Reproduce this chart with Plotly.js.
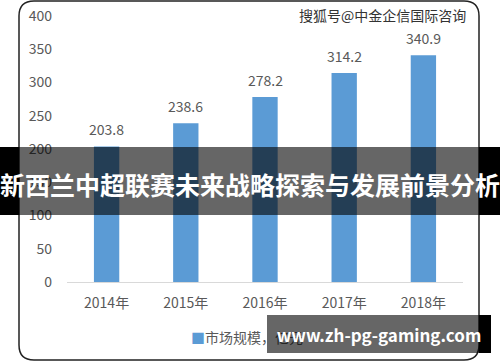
<!DOCTYPE html>
<html>
<head>
<meta charset="utf-8">
<script src="https://cdn.plot.ly/plotly-3.0.1.min.js"></script>
<style>html,body{margin:0;padding:0;background:#fff;}#chart{width:500px;height:362px;}</style>
</head>
<body>
<div id="chart"></div>
<script>
var categories = ['2014年', '2015年', '2016年', '2017年', '2018年'];
var marketSize = [203.8, 238.6, 278.2, 314.2, 340.9];
var yTicks = [0, 50, 100, 150, 200, 250, 300, 350, 400];
var seriesName = '市场规模，亿元';
var titleText = '新西兰中超联赛未来战略探索与发展前景分析';
var watermarkText = '搜狐号@中金企信国际咨询';
var urlText = 'www.zh-pg-gaming.com';

var W = 500, H = 362, L = 67, R = 463, T = 16, B = 282;
function X(p) { return (p - L) / (R - L); }
function Y(p) { return (B - p) / (B - T); }

var FONT = '"Noto Sans CJK SC", "Noto Sans", sans-serif';
var GRAY = '#595959';

// rounded border box
var bx0 = 19, bx1 = 479, by0 = 1, by1 = 360, r = 15;
var borderPath = 'M' + X(bx0 + r) + ',' + Y(by0) +
  ' L' + X(bx1 - r) + ',' + Y(by0) +
  ' Q' + X(bx1) + ',' + Y(by0) + ' ' + X(bx1) + ',' + Y(by0 + r) +
  ' L' + X(bx1) + ',' + Y(by1 - r) +
  ' Q' + X(bx1) + ',' + Y(by1) + ' ' + X(bx1 - r) + ',' + Y(by1) +
  ' L' + X(bx0 + r) + ',' + Y(by1) +
  ' Q' + X(bx0) + ',' + Y(by1) + ' ' + X(bx0) + ',' + Y(by1 - r) +
  ' L' + X(bx0) + ',' + Y(by0 + r) +
  ' Q' + X(bx0) + ',' + Y(by0) + ' ' + X(bx0 + r) + ',' + Y(by0) + ' Z';

function rect(x0, y0, x1, y1, color) {
  return {type: 'rect', xref: 'paper', yref: 'paper', layer: 'above',
    x0: X(x0), x1: X(x1), y0: Y(y1), y1: Y(y0),
    fillcolor: color, line: {width: 0}};
}

var trace = {
  type: 'bar',
  x: categories,
  y: marketSize,
  name: seriesName,
  marker: {color: '#5B9BD5'},
  width: 0.32,
  cliponaxis: false,
  hoverinfo: 'x+y'
};

var valueLabels = categories.map(function (c, i) {
  return {xref: 'x', yref: 'y', x: c, y: marketSize[i], xanchor: 'center', yanchor: 'bottom',
    yshift: 5, showarrow: false, text: marketSize[i].toFixed(1),
    font: {family: FONT, size: 14, color: GRAY}};
});

var layout = {
  width: W, height: H,
  margin: {l: L, r: W - R, t: T, b: H - B, pad: 0},
  paper_bgcolor: '#ffffff',
  plot_bgcolor: '#ffffff',
  showlegend: false,
  font: {family: FONT, size: 14, color: GRAY},
  xaxis: {
    type: 'category',
    showgrid: false, zeroline: false,
    showline: true, linecolor: '#D9D9D9', linewidth: 1,
    ticks: '', ticklabelstandoff: 8,
    tickfont: {family: FONT, size: 14, color: GRAY},
    fixedrange: true
  },
  yaxis: {
    range: [0, 400],
    tickvals: yTicks,
    ticktext: yTicks.map(String),
    showgrid: false, zeroline: false, showline: false,
    ticks: '', ticklabelstandoff: 14,
    tickfont: {family: FONT, size: 14, color: GRAY},
    fixedrange: true
  },
  shapes: [
    {type: 'path', xref: 'paper', yref: 'paper', layer: 'above', path: borderPath,
      line: {color: '#222222', width: 1.5}, fillcolor: 'rgba(0,0,0,0)'},
    rect(0, 147, 19, 215, '#000000'),
    rect(479, 147, 500, 215, '#000000'),
    rect(19, 147, 479, 215, 'rgba(0,0,0,0.6)'),
    rect(479, 315, 491, 353, '#000000')
  ],
  annotations: valueLabels.concat([
    {xref: 'paper', yref: 'paper', x: X(189), y: Y(337), xanchor: 'left', yanchor: 'middle',
      showarrow: false, text: '<span style="color:#5B9BD5">■</span>' + seriesName,
      font: {family: FONT, size: 14, color: GRAY}},
    {xref: 'paper', yref: 'paper', x: X(468), y: Y(15), xanchor: 'right', yanchor: 'middle',
      showarrow: false, text: watermarkText,
      font: {family: FONT, size: 14, color: '#333333'}},
    {xref: 'paper', yref: 'paper', x: X(250), y: Y(184), xanchor: 'center', yanchor: 'middle',
      showarrow: false, text: '<b>' + titleText + '</b>',
      font: {family: FONT, size: 25, color: '#ffffff'}},
    {xref: 'paper', yref: 'paper', x: X(267), y: Y(315), xanchor: 'left', yanchor: 'top',
      showarrow: false, text: '<b>' + urlText + '</b>',
      width: 224, height: 38, borderpad: 0, borderwidth: 0, align: 'center', valign: 'middle',
      bgcolor: 'rgba(0,0,0,0.6)',
      font: {family: FONT, size: 17, color: '#ffffff'}}
  ])
};

Plotly.newPlot('chart', [trace], layout, {displayModeBar: false, staticPlot: true});
</script>
</body>
</html>
